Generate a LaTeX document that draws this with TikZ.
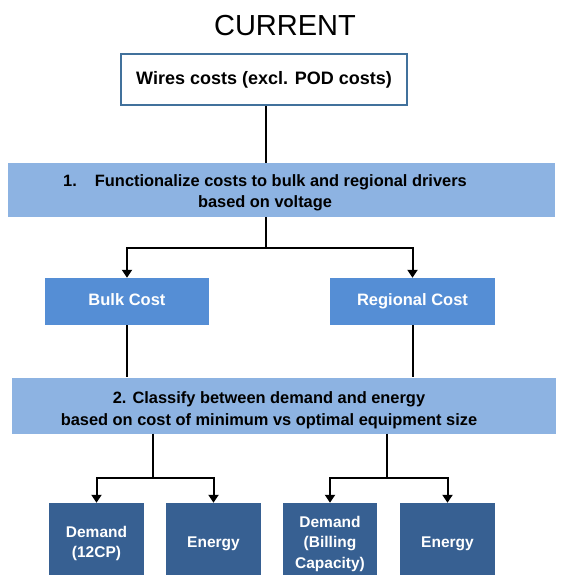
\documentclass[tikz,border=0pt]{standalone}
\usepackage{fontspec}
\setmainfont{Liberation Sans}
\usetikzlibrary{arrows.meta}
\definecolor{bandblue}{HTML}{8DB3E2}
\definecolor{midblue}{HTML}{558ED5}
\definecolor{darkblue}{HTML}{376092}
\definecolor{borderblue}{HTML}{41719C}
\tikzset{
  band/.style={fill=bandblue, draw=none, inner sep=0pt},
  bandtext/.style={align=center, inner sep=0pt, font=\bfseries\fontsize{16.4}{20.5}\selectfont},
  midbox/.style={fill=midblue, draw=none, text=white, inner sep=0pt,
    text height=0.92em, text depth=0.2em,
    minimum width=164pt, minimum height=47pt, font=\bfseries\fontsize{16.5}{20}\selectfont},
  leafbox/.style={fill=darkblue, draw=none, text=white, align=center, inner sep=0pt,
    minimum width=95pt, minimum height=81pt, font=\bfseries\fontsize{15.5}{20.5}\selectfont},
  conn/.style={draw=black, line width=2pt},
  arr/.style={conn, -{Triangle[length=8pt,width=10pt]}},
}
\begin{document}
\begin{tikzpicture}[x=1pt, y=-1pt]
\useasboundingbox (0,0) rectangle (561,575);
\clip (0,0) rectangle (561,575);
\node (title) at (285,26) {\fontsize{29}{32}\selectfont CURRENT};
\node[draw=borderblue, line width=2pt, fill=white, minimum width=286pt, minimum height=51pt,
  inner sep=0pt, font=\bfseries\fontsize{18}{22}\selectfont] (wires) at (264,79.5) {Wires costs (excl. POD costs)};
\node[band, minimum width=547pt, minimum height=54pt] (band1) at (281.5,190) {};
\node[bandtext] (band1t) at (265,193)
  {1.\hspace{1.1em}Functionalize costs to bulk and regional drivers\\based on voltage};
\node[midbox] (bulk) at (127,301.5) {Bulk Cost};
\node[midbox, minimum width=165pt] (regional) at (412.5,301.5) {Regional Cost};
\node[band, minimum width=544pt, minimum height=56pt] (band2) at (284,405.5) {};
\node[bandtext, font=\bfseries\fontsize{16.4}{22}\selectfont] (band2t) at (269,410)
  {2. Classify between demand and energy\\based on cost of minimum vs optimal equipment size};
\node[leafbox] (d1) at (96.5,543.5) {Demand\\(12CP)};
\node[leafbox] (e1) at (213.5,543.5) {Energy};
\node[leafbox, minimum width=94pt] (d2) at (330,543.5) {Demand\\(Billing\\Capacity)};
\node[leafbox] (e2) at (447.5,543.5) {Energy};
\coordinate (j1) at (266,248);
\coordinate (j2) at (153,478);
\coordinate (j3) at (387,478);
\draw[conn] (wires.south -| j1) -- (j1 |- band1.north);
\draw[conn] (j1 |- band1.south) -- (j1);
\draw[arr] (j1) -| (bulk.north);
\draw[arr] (j1) -| (regional.north);
\draw[conn] (bulk.south) -- (bulk.south |- band2.north);
\draw[conn] (regional.south) -- (regional.south |- band2.north);
\draw[conn] (j2 |- band2.south) -- (j2);
\draw[arr] (j2) -| (d1.north);
\draw[arr] (j2) -| (e1.north);
\draw[conn] (j3 |- band2.south) -- (j3);
\draw[arr] (j3) -| (d2.north);
\draw[arr] (j3) -| (e2.north);
\end{tikzpicture}
\end{document}
